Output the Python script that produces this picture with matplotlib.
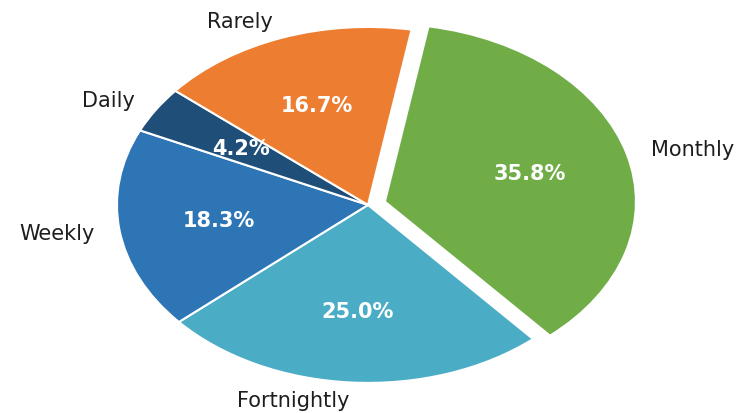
import matplotlib
matplotlib.use("Agg")
import matplotlib.pyplot as plt

# Survey: how often respondents do the activity
categories = ["Monthly", "Fortnightly", "Weekly", "Daily", "Rarely"]
shares = [35.8, 25.0, 18.3, 4.2, 16.7]
colors = ["#70AD47", "#4BACC6", "#2E75B6", "#1F4E79", "#ED7D31"]
explode = [0.07, 0, 0, 0, 0]

plt.rcParams["font.family"] = ["DejaVu Sans"]

fig = plt.figure(figsize=(7.42, 4.14), dpi=100)
ax = fig.add_axes([0, 0, 1, 1])

wedges, texts, autotexts = ax.pie(
    shares,
    labels=categories,
    colors=colors,
    explode=explode,
    startangle=80,
    counterclock=False,
    autopct="%1.1f%%",
    pctdistance=0.6,
    labeldistance=1.1,
    wedgeprops=dict(edgecolor="white", linewidth=1.5),
    textprops=dict(fontsize=15, color="#1e1e1e"),
)
for t in autotexts:
    t.set_color("white")
    t.set_fontweight("bold")
    t.set_fontsize(15)

# Stretch the pie into a wide ellipse filling the canvas
ax.set_aspect("auto")
ax.set_xlim(-1.466, 1.490)
ax.set_ylim(-1.169, 1.157)
ax.axis("off")

fig.savefig("out.png", dpi=100, facecolor="white")
